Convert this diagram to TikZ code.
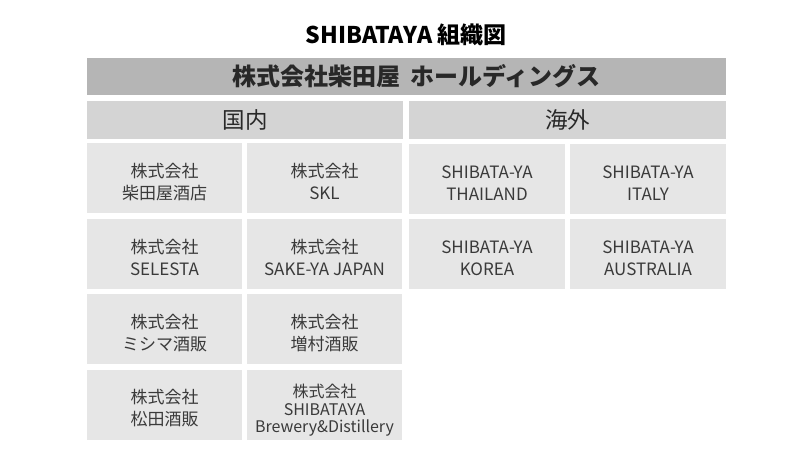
\documentclass[tikz,border=0pt]{standalone}
\usepackage{fontspec}
\setmainfont{Noto Sans CJK JP}
\usepackage{xcolor}
\definecolor{barDark}{RGB}{181,181,181}
\definecolor{barMid}{RGB}{212,212,212}
\definecolor{boxLight}{RGB}{230,230,230}
\definecolor{txtDark}{RGB}{40,40,40}
\definecolor{txtBox}{RGB}{58,58,58}
\newcommand{\costrut}[1][22pt]{\rule{0pt}{#1}}

\begin{document}
\begin{tikzpicture}[x=1pt,y=-1pt,
  topbar/.style={rectangle,fill=barDark,minimum width=639pt,minimum height=37pt,inner sep=0pt,text=txtDark,font=\fontsize{24}{28}\selectfont\bfseries},
  groupbar/.style={rectangle,fill=barMid,minimum width=316pt,minimum height=38pt,inner sep=0pt,text=txtDark,font=\fontsize{22.5}{26}\selectfont},
  cobox/.style={rectangle,fill=boxLight,minimum width=155pt,minimum height=70pt,inner sep=0pt,align=center,text=txtBox,font=\fontsize{17}{22}\selectfont}]
\useasboundingbox (0,0) rectangle (800,450);

\node[text=black,font=\fontsize{23}{26}\selectfont\bfseries] (title) at (406,35){SHIBATAYA 組織図};
\node[topbar] (hd) at (406.5,76.5){\hspace*{20pt}株式会社柴田屋\hspace{10pt}ホールディングス};

\node[groupbar] (kokunai) at (245,119.5){国内};
  \node[cobox] (sakaten) at (164.5,178){\costrut 株式会社\\柴田屋酒店};
  \node[cobox] (skl) at (324.5,178){\costrut 株式会社\\SKL};
  \node[cobox] (selesta) at (164.5,253.5){\costrut 株式会社\\SELESTA};
  \node[cobox] (sakeya) at (324.5,253.5){\costrut 株式会社\\SAKE-YA JAPAN};
  \node[cobox] (mishima) at (164.5,329){\costrut 株式会社\\ミシマ酒販};
  \node[cobox] (masumura) at (324.5,329){\costrut 株式会社\\増村酒販};
  \node[cobox] (matsuda) at (164.5,404.5){\costrut 株式会社\\松田酒販};
  \node[cobox,font=\fontsize{16}{17.5}\selectfont] (brewery) at (324.5,404.5){\costrut[25pt]株式会社\\SHIBATAYA\\Brewery\&Distillery};

\node[groupbar,minimum width=317pt] (kaigai) at (567.5,119.5){海外};
  \node[cobox,minimum width=156pt] (thai) at (487,178.5){\costrut SHIBATA-YA\\THAILAND};
  \node[cobox,minimum width=156pt] (italy) at (648,178.5){\costrut SHIBATA-YA\\ITALY};
  \node[cobox,minimum width=156pt] (korea) at (487,254){\costrut SHIBATA-YA\\KOREA};
  \node[cobox,minimum width=156pt] (aus) at (648,254){\costrut SHIBATA-YA\\AUSTRALIA};

\end{tikzpicture}
\end{document}
